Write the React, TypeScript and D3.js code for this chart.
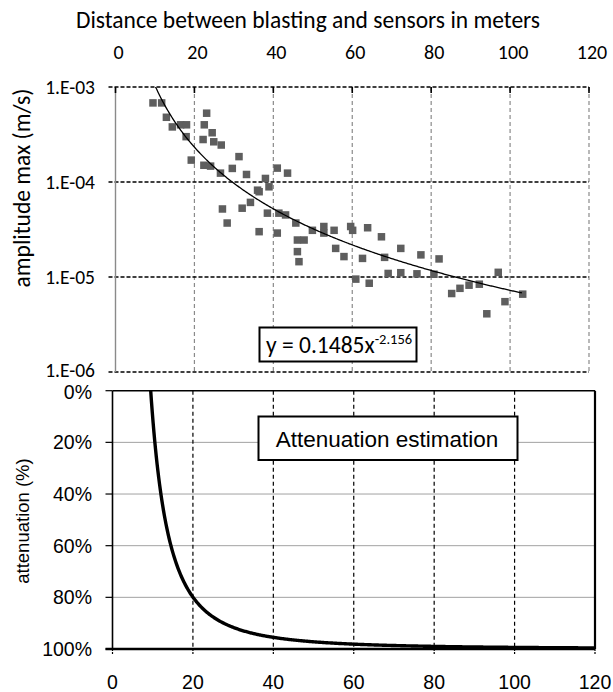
import React from "react";
import * as d3 from "d3";

// ---- data ----
const distances = [
  9.5, 11.7, 12.9, 14.4, 16.5, 18.0, 17.9, 23.1, 22.5, 24.5, 22.2, 24.9, 26.8, 19.2, 22.4, 24.1,
  31.3, 26.6, 29.6, 33.2, 41.0, 38.0, 38.9, 36.0, 43.6, 27.1, 32.1, 28.3, 36.4, 34.2, 36.4, 38.5,
  41.4, 43.1, 45.7, 41.0, 46.1, 47.8, 46.1, 46.5, 49.9, 52.8, 52.8, 55.4, 55.8, 57.9, 59.6, 60.1,
  63.9, 67.4, 62.6, 68.2, 72.3, 69.1, 72.3, 76.4, 77.4, 60.9, 64.3, 82.0, 80.7, 85.2, 87.3, 89.6,
  92.2, 97.0, 98.7, 94.1, 103.2,
];
const amplitudes = [
  6.8e-4, 6.8e-4, 4.8e-4, 3.8e-4, 4.0e-4, 4.0e-4, 3.0e-4, 5.3e-4, 4.0e-4, 3.3e-4, 2.8e-4, 2.65e-4,
  2.45e-4, 1.7e-4, 1.5e-4, 1.47e-4, 1.85e-4, 1.24e-4, 1.39e-4, 1.2e-4, 1.4e-4, 1.09e-4, 8.9e-5,
  8.2e-5, 1.24e-4, 5.2e-5, 5.3e-5, 3.7e-5, 3.0e-5, 6.1e-5, 7.9e-5, 4.7e-5, 4.7e-5, 4.5e-5, 3.7e-5,
  2.9e-5, 2.45e-5, 2.45e-5, 1.85e-5, 1.45e-5, 3.1e-5, 3.4e-5, 2.9e-5, 3.1e-5, 2.0e-5, 1.64e-5,
  3.4e-5, 3.1e-5, 3.3e-5, 2.65e-5, 1.57e-5, 1.61e-5, 2.0e-5, 1.09e-5, 1.11e-5, 1.08e-5, 1.71e-5,
  9.5e-6, 8.6e-6, 1.55e-5, 1.07e-5, 6.7e-6, 7.6e-6, 8.2e-6, 8.4e-6, 1.12e-5, 5.5e-6, 4.1e-6, 6.6e-6,
];
// fitted power law shown on the chart: y = 0.1485 x^-2.156
const fitCoef = 0.1485;
const fitExp = -2.156;

const xTicks = [0, 20, 40, 60, 80, 100, 120];
const ampTicks = [1e-3, 1e-4, 1e-5, 1e-6];
const ampTickLabels = ["1.E-03", "1.E-04", "1.E-05", "1.E-06"];
const attTicks = [0, 0.2, 0.4, 0.6, 0.8, 1];
const attTickLabels = ["0%", "20%", "40%", "60%", "80%", "100%"];

const titleText = "Distance between blasting and sensors in meters";
const topYTitle = "amplitude max (m/s)";
const bottomYTitle = "attenuation (%)";
const eqText = "y = 0.1485x";
const eqSup = "-2.156";
const attBoxText = "Attenuation estimation";

const calibri = "Carlito, Lato, 'Open Sans', sans-serif";
const arial = "'Liberation Sans', Arial, sans-serif";

export default function App() {
  const W = 613, H = 692;
  // top panel scales
  const xTop = d3.scaleLinear().domain([0, 120]).range([115.5, 589]);
  const yTop = d3.scaleLog().domain([1e-6, 1e-3]).range([372, 87]);
  // bottom panel scales
  const xBot = d3.scaleLinear().domain([0, 120]).range([112.5, 595]);
  const yBot = d3.scaleLinear().domain([0, 1]).range([390.7, 649]);

  const dMin = d3.min(distances) as number;
  const dMax = d3.max(distances) as number;
  const fit = (x: number) => fitCoef * Math.pow(x, fitExp);
  const fitXs = d3.range(dMin, dMax + 0.001, 0.25);
  const fitLine = d3
    .line<number>()
    .x((d) => xTop(d))
    .y((d) => yTop(fit(d)));

  const attXs = d3.range(dMin, 120.001, 0.2);
  const attLine = d3
    .line<number>()
    .x((d) => xBot(d))
    .y((d) => yBot(1 - fit(d) / fit(dMin)));

  const sq = 7.5;

  return (
    <svg width={W} height={H} style={{ position: "absolute", left: 0, top: 0, background: "#fff" }}>
      <defs>
        <clipPath id="topClip">
          <rect x={xTop(0)} y={yTop(1e-3)} width={xTop(120) - xTop(0)} height={yTop(1e-6) - yTop(1e-3)} />
        </clipPath>
        <clipPath id="botClip">
          <rect x={xBot(0)} y={yBot(0)} width={xBot(120) - xBot(0)} height={yBot(1) - yBot(0)} />
        </clipPath>
      </defs>
      <rect width={W} height={H} fill="#fff" />

      {/* ---------- TOP PANEL ---------- */}
      <text x={308} y={28} textAnchor="middle" fontFamily={calibri} fontSize={23.5} fill="#000">
        {titleText}
      </text>
      {xTicks.map((t) => (
        <text key={"xt" + t} x={xTop(t) + 3} y={59} textAnchor="middle" fontFamily={calibri} fontSize={20} fill="#000">
          {t}
        </text>
      ))}
      {/* vertical gridlines */}
      {xTicks.slice(1).map((t) => (
        <line key={"vg" + t} x1={xTop(t)} x2={xTop(t)} y1={yTop(1e-3)} y2={yTop(1e-6)} stroke="#8a8a8a" strokeWidth={1.2} strokeDasharray="4,3" />
      ))}
      {/* horizontal gridlines */}
      {ampTicks.map((t) => (
        <line key={"hg" + t} x1={xTop(0) - 7} x2={xTop(120)} y1={yTop(t)} y2={yTop(t)} stroke="#000" strokeWidth={1.3} strokeDasharray="4,2" />
      ))}
      {/* left axis */}
      <line x1={xTop(0)} x2={xTop(0)} y1={yTop(1e-3)} y2={yTop(1e-6)} stroke="#8a8a8a" strokeWidth={1.4} />
      {/* top ticks (inside) */}
      {xTicks.map((t) => (
        <line key={"tt" + t} x1={xTop(t)} x2={xTop(t)} y1={yTop(1e-3)} y2={yTop(1e-3) + 6} stroke="#000" strokeWidth={1.6} />
      ))}
      {ampTicks.map((t, i) => (
        <text key={"yl" + t} x={95} y={yTop(t) - (i === 3 ? 2 : 0)} dy="0.35em" textAnchor="end" fontFamily={calibri} fontSize={19.5} fill="#000">
          {ampTickLabels[i]}
        </text>
      ))}
      <text
        transform={`translate(30,${188}) rotate(-90)`}
        textAnchor="middle"
        fontFamily={calibri}
        fontSize={23.5}
        fill="#000"
      >
        {topYTitle}
      </text>
      {/* points */}
      <g>
        {distances.map((d, i) => (
          <rect key={"p" + i} x={xTop(d) - sq / 2} y={yTop(amplitudes[i]) - sq / 2} width={sq} height={sq} fill="#5e5e5e" />
        ))}
      </g>
      {/* trend line */}
      <path d={fitLine(fitXs) || ""} fill="none" stroke="#000" strokeWidth={1.3} clipPath="url(#topClip)" />
      {/* equation box */}
      <rect x={259.5} y={327.5} width={157} height={34} fill="#fff" stroke="#000" strokeWidth={2} />
      <text x={266} y={353} fontFamily={calibri} fontSize={23.5} fill="#000">
        {eqText}
        <tspan dy={-9} fontSize={14.5}>{eqSup}</tspan>
      </text>

      {/* ---------- BOTTOM PANEL ---------- */}
      {/* horizontal dotted gridlines */}
      {attTicks.slice(1, -1).map((t) => (
        <line key={"bh" + t} x1={xBot(0)} x2={xBot(120)} y1={yBot(t)} y2={yBot(t)} stroke="#444" strokeWidth={1} strokeDasharray="1,1" />
      ))}
      {/* vertical dashed gridlines */}
      {xTicks.slice(1, -1).map((t) => (
        <line key={"bv" + t} x1={xBot(t)} x2={xBot(t)} y1={yBot(0)} y2={yBot(1)} stroke="#000" strokeWidth={1.2} strokeDasharray="4,3" />
      ))}
      {/* frame */}
      <line x1={xBot(0)} x2={xBot(120)} y1={yBot(0)} y2={yBot(0)} stroke="#000" strokeWidth={1.6} />
      <line x1={xBot(0)} x2={xBot(0)} y1={yBot(0)} y2={yBot(1)} stroke="#000" strokeWidth={1.6} />
      <line x1={xBot(120)} x2={xBot(120)} y1={yBot(0)} y2={yBot(1)} stroke="#000" strokeWidth={2.2} />
      {/* left ticks */}
      {attTicks.map((t) => (
        <line key={"blt" + t} x1={xBot(0) - 7} x2={xBot(0)} y1={yBot(t)} y2={yBot(t)} stroke="#000" strokeWidth={1.2} />
      ))}
      {/* bottom ticks */}
      {xTicks.map((t) => (
        <line key={"bbt" + t} x1={xBot(t)} x2={xBot(t)} y1={yBot(1)} y2={yBot(1) + 6} stroke="#000" strokeWidth={1.2} strokeDasharray="2,1" />
      ))}
      {/* attenuation curve */}
      <path d={attLine(attXs) || ""} fill="none" stroke="#000" strokeWidth={3.4} clipPath="url(#botClip)" />
      <line x1={xBot(0) - 7} x2={xBot(120)} y1={yBot(1)} y2={yBot(1)} stroke="#000" strokeWidth={2.6} />
      {/* labels */}
      {attTicks.map((t, i) => (
        <text key={"bl" + t} x={92} y={yBot(t) + (i === 0 ? 1 : 0)} dy="0.36em" textAnchor="end" fontFamily={arial} fontSize={19.5} fill="#000">
          {attTickLabels[i]}
        </text>
      ))}
      {xTicks.map((t) => (
        <text key={"bx" + t} x={xBot(t)} y={689} textAnchor="middle" fontFamily={arial} fontSize={19.5} fill="#000">
          {t}
        </text>
      ))}
      <text
        transform={`translate(29,${521}) rotate(-90)`}
        textAnchor="middle"
        fontFamily={arial}
        fontSize={18.5}
        fill="#000"
      >
        {bottomYTitle}
      </text>
      {/* attenuation box */}
      <rect x={258.5} y={416.5} width={259} height={43.5} fill="#fff" stroke="#000" strokeWidth={2} />
      <text x={387} y={446.5} textAnchor="middle" fontFamily={arial} fontSize={22.5} fill="#000">
        {attBoxText}
      </text>
    </svg>
  );
}
